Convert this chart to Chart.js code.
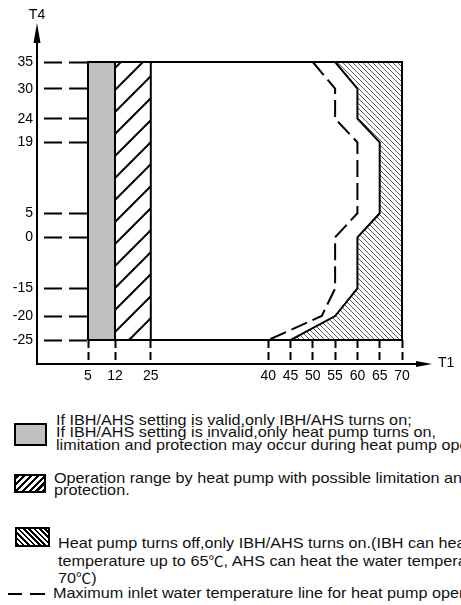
<!DOCTYPE html>
<html>
<head>
<meta charset="utf-8">
<script src="https://cdn.jsdelivr.net/npm/chart.js@4.4.0/dist/chart.umd.min.js"></script>
<style>
  html, body { margin: 0; padding: 0; background: #fff; }
  body { width: 461px; height: 605px; overflow: hidden; position: relative; font-family: "Liberation Sans", Arial, sans-serif; color: #111; }
  #wrap { position: absolute; left: 0; top: 0; width: 461px; height: 400px; }
  .note { position: absolute; white-space: nowrap; font-size: 15px; transform: scaleX(1.08); transform-origin: 0 0; }
  .deg { font-family: "Noto Sans CJK SC"; font-size: 14px; }
  .key { position: absolute; box-sizing: border-box; border: 2px solid #000; }
  .dash { position: absolute; height: 2px; background: #000; }
</style>
</head>
<body>
<div id="wrap"><canvas id="op" width="461" height="400"></canvas></div>

<div class="key" style="left:14px;top:423px;width:33px;height:23px;background:#bfbfbf"></div>
<div class="note" style="left:56px;top:413.5px;line-height:12.5px">If IBH/AHS setting is valid,only IBH/AHS turns on;<br>If IBH/AHS setting is invalid,only heat pump turns on,<br>limitation and protection may occur during heat pump operation.</div>

<div class="key" style="left:14px;top:474px;width:32px;height:19px;background:repeating-linear-gradient(135deg,#000 0 2.2px,#fff 2.2px 4.8px)"></div>
<div class="note" style="left:54px;top:472px;line-height:12px">Operation range by heat pump with possible limitation and<br>protection.</div>

<div class="key" style="left:15px;top:527px;width:35px;height:20px;background:repeating-linear-gradient(45deg,#000 0 1.8px,#fff 1.8px 3.8px)"></div>
<div class="note" style="left:58px;top:534.8px;line-height:16.7px">Heat pump turns off,only IBH/AHS turns on.(IBH can heat the water<br>temperature up to 65<span class="deg">℃</span>, AHS can heat the water temperature up to<br>70<span class="deg">℃</span>)</div>

<div class="dash" style="left:8px;top:593px;width:14px"></div>
<div class="dash" style="left:30px;top:593px;width:15px"></div>
<div class="note" style="left:53px;top:585.4px;line-height:16.8px">Maximum inlet water temperature line for heat pump operation.</div>

<script>
// axis ticks
const t1Ticks = [5, 12, 25, 40, 45, 50, 55, 60, 65, 70];
const t4Ticks = [-25, -20, -15, 0, 5, 19, 24, 30, 35];

// whole operating envelope
const t1Range = [5, 70];
const t4Range = [-25, 35];

// T1 bands: only IBH/AHS, heat pump with limitation
const ibhBand = [5, 12];
const limitBand = [12, 25];

// heat pump turns off (solid line)
const offT4 = [35, 30, 24, 19, 5, 0, -15, -20, -25];
const offT1 = [55, 60, 60, 65, 65, 60, 60, 55, 45];

// max inlet water temperature (dashed line)
const inletT4 = [35, 30, 24, 19, 5, 0, -15, -20, -25];
const inletT1 = [50, 55, 55, 60, 60, 55, 55, 52, 40];


// the drawing is not to scale, so the axes are piecewise linear
class BrokenScale extends Chart.LinearScale {
    static id = 'broken';
    static defaults = Chart.LinearScale.defaults;

    toDecimal(v) {
        const b = this.options.breaks;
        let i = 1;
        while (i < b.length - 1 && v > b[i][0]) i++;
        const [v0, d0] = b[i - 1], [v1, d1] = b[i];
        return d0 + (v - v0) / (v1 - v0) * (d1 - d0);
    }
    getPixelForValue(v) {
        if (v === null || isNaN(v)) return NaN;
        return this.getPixelForDecimal(this.toDecimal(v));
    }
    getValueForPixel(p) {
        const d = this.getDecimalForPixel(p);
        const b = this.options.breaks;
        let i = 1;
        while (i < b.length - 1 && d > b[i][1]) i++;
        const [v0, d0] = b[i - 1], [v1, d1] = b[i];
        return v0 + (d - d0) / (d1 - d0) * (v1 - v0);
    }
}
Chart.register(BrokenScale);


function hatch(size, width, dir, phase, color) {
    const c = document.createElement('canvas');
    c.width = c.height = size;
    const g = c.getContext('2d');
    g.strokeStyle = color;
    g.lineWidth = width;
    for (let k = -2; k <= 2; k++) {
        const o = phase + k * size;
        g.beginPath();
        if (dir > 0) {
            g.moveTo(o + 1, -1);
            g.lineTo(o - size - 1, size + 1);
        } else {
            g.moveTo(o - 1, -1);
            g.lineTo(o + size + 1, size + 1);
        }
        g.stroke();
    }
    return g.createPattern(c, 'repeat');
}

function band(t1) {
    return [
        {x: t1[0], y: t4Range[0]}, {x: t1[0], y: t4Range[1]},
        {x: t1[1], y: t4Range[1]}, {x: t1[1], y: t4Range[0]},
        {x: t1[0], y: t4Range[0]}
    ];
}

const offLine = offT4.map((v, i) => ({x: offT1[i], y: v}));
const offArea = offLine.concat([
    {x: t1Range[1], y: t4Range[0]},
    {x: t1Range[1], y: t4Range[1]},
    offLine[0]
]);
const inletLine = inletT4.map((v, i) => ({x: inletT1[i], y: v}));
const frame = [
    {x: t1Range[0], y: t4Range[1]}, {x: t1Range[1], y: t4Range[1]},
    {x: t1Range[1], y: t4Range[0]}, {x: t1Range[0], y: t4Range[0]}
];


const axisArrows = {
    id: 'axisArrows',
    afterDraw(chart) {
        const {ctx, chartArea: a, scales: {x, y}} = chart;
        const ox = a.left - y.options.grid.tickLength;
        const oy = a.bottom + x.options.grid.tickLength;
        ctx.save();
        ctx.strokeStyle = '#000';
        ctx.fillStyle = '#000';
        ctx.lineWidth = 2;
        ctx.beginPath();
        ctx.moveTo(ox, oy + 1);
        ctx.lineTo(ox, 40);
        ctx.moveTo(ox - 1, oy);
        ctx.lineTo(420, oy);
        ctx.stroke();

        ctx.beginPath();
        ctx.moveTo(ox, 23);
        ctx.lineTo(ox - 3.5, 43);
        ctx.lineTo(ox + 3.5, 43);
        ctx.closePath();
        ctx.fill();
        ctx.beginPath();
        ctx.moveTo(432, oy);
        ctx.lineTo(416, oy - 3);
        ctx.lineTo(416, oy + 3);
        ctx.closePath();
        ctx.fill();

        ctx.font = '14px "Liberation Sans"';
        ctx.textBaseline = 'middle';
        ctx.textAlign = 'center';
        ctx.fillText('T4', ox, 15);
        ctx.textAlign = 'left';
        ctx.fillText('T1', 438, oy - 1);
        ctx.restore();
    }
};

const tickFont = {family: 'Liberation Sans', size: 14};

const ctx = document.getElementById('op').getContext('2d');
const myChart = new Chart(ctx, {
    type: 'line',
    data: {
        datasets: [
            {
                label: 'Maximum inlet water temperature',
                data: inletLine,
                borderColor: '#000',
                borderWidth: 2,
                borderDash: [17, 6],
                fill: false
            },
            {
                label: 'Operating range',
                data: frame,
                borderColor: '#000',
                borderWidth: 2,
                fill: false
            },
            {
                label: 'Heat pump turns off',
                data: offArea,
                borderColor: '#000',
                borderWidth: 2,
                backgroundColor: hatch(5, 0.8, -1, 0, '#333'),
                fill: 'shape'
            },
            {
                label: 'Heat pump with limitation',
                data: band(limitBand),
                borderColor: '#000',
                borderWidth: 2,
                backgroundColor: hatch(22, 2, 1, 7, '#000'),
                fill: 'shape'
            },
            {
                label: 'IBH/AHS',
                data: band(ibhBand),
                borderColor: '#000',
                borderWidth: 2,
                backgroundColor: '#bfbfbf',
                fill: 'shape'
            }
        ]
    },
    options: {
        responsive: false,
        animation: false,
        devicePixelRatio: 1,
        events: [],
        layout: {
            padding: {top: 62, right: 59, left: 0, bottom: 0}
        },
        elements: {
            point: {radius: 0, hoverRadius: 0},
            line: {tension: 0}
        },
        datasets: {
            line: {clip: false}
        },
        scales: {
            x: {
                type: 'broken',
                min: 5,
                max: 70,
                breaks: [[5, 0], [12, 0.086], [25, 0.2], [40, 0.574], [70, 1]],
                afterBuildTicks: s => { s.ticks = t1Ticks.map(v => ({value: v})); },
                afterFit: s => { s.height = 60; },
                border: {display: false},
                grid: {
                    drawOnChartArea: false,
                    tickLength: 24,
                    tickWidth: 2,
                    tickColor: '#000',
                    tickBorderDash: [8, 4]
                },
                ticks: {
                    autoSkip: false,
                    maxRotation: 0,
                    padding: 4,
                    color: '#000',
                    font: tickFont,
                    callback: v => String(v)
                }
            },
            y: {
                type: 'broken',
                min: -25,
                max: 35,
                breaks: [[-25, 0], [-20, 0.0863], [-15, 0.1853], [0, 0.3694], [5, 0.4558],
                         [19, 0.7112], [24, 0.796], [30, 0.904], [35, 1]],
                afterBuildTicks: s => { s.ticks = t4Ticks.map(v => ({value: v})); },
                afterFit: s => { s.width = 88; },
                border: {display: false},
                grid: {
                    drawOnChartArea: false,
                    tickLength: 51,
                    tickWidth: 2,
                    tickColor: '#000',
                    tickBorderDash: [18, 7],
                    tickBorderDashOffset: 18
                },
                ticks: {
                    autoSkip: false,
                    padding: 4,
                    color: '#000',
                    font: tickFont,
                    callback: v => String(v)
                }
            }
        },
        plugins: {
            legend: {display: false},
            tooltip: {enabled: false}
        }
    },
    plugins: [axisArrows]
});
</script>
</body>
</html>
